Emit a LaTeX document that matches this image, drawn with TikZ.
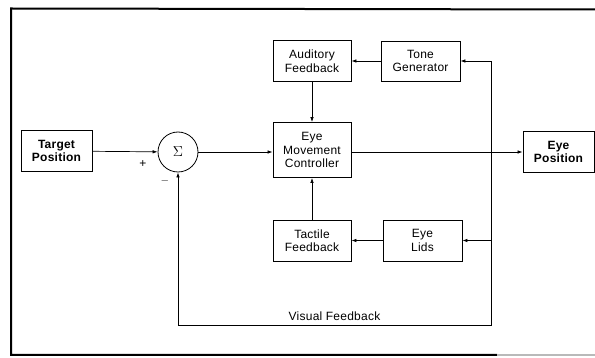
\documentclass[tikz,border=0pt]{standalone}
\usepackage{fontspec}
\setmainfont{Liberation Sans}[LetterSpace=2]
\usetikzlibrary{arrows.meta}

\newlength\boxw
\setlength\boxw{78pt}
\newlength\boxh
\setlength\boxh{41pt}

\tikzset{
  blk/.style={draw, line width=0.8pt, rectangle, minimum width=\boxw,
    minimum height=\boxh, align=center, inner sep=1pt,
    font=\fontsize{12}{13.5}\selectfont},
  io/.style={blk, minimum width=71pt, font=\fontsize{12}{13.5}\selectfont\bfseries},
  sig/.style={line width=0.7pt, -{Latex[length=5pt,width=3.5pt]}}
}

\begin{document}
\begin{tikzpicture}[x=1pt,y=-1pt]
    \useasboundingbox (0,0) rectangle (595,358);
    \begin{scope}
      \draw[line width=2pt] (595,9.5) -- (11,8.5) -- (11,355) -- (497,355);
      \draw[line width=1.5pt, gray!55] (497,355) -- (595,355);

      \node[io] (target) at (56.5,151) {Target\\Position};
      \node[draw, line width=0.8pt, circle, minimum size=40pt, inner sep=0pt] (sum) at (178,152) {\Large$\Sigma$};
      \node[blk] (aud) at (312,61) {Auditory\\Feedback};
      \node[blk, minimum width=79pt, minimum height=40pt] (tone) at (420.5,61) {Tone\\Generator};
      \node[blk, minimum height=55pt] (emc) at (312,150) {Eye\\Movement\\Controller};
      \node[blk] (tact) at (312,240.5) {Tactile\\Feedback};
      \node[blk, minimum width=79pt] (lids) at (422.5,240.5) {Eye\\Lids};
      \node[io] (eyepos) at (558.5,152) {Eye\\Position};

      \node[font=\fontsize{12}{13}\selectfont] (plus) at (143,164) {+};
      \node[font=\fontsize{11}{13}\selectfont] (minus) at (165,181) {$-$};

      \coordinate (tap) at (491,152);
      \coordinate (corner) at (491,325);

      \draw[sig] (target) -- (sum);
      \draw[sig] (sum) -- (sum -| emc.west);
      \draw[sig] (emc.east |- tap) -- (eyepos.west |- tap);
      \draw[sig] (tone) -- (aud);
      \draw[sig] (aud) -- (emc);
      \draw[sig] (tact) -- (emc);
      \draw[sig] (lids) -- (tact);
      \draw[sig] (tap) |- (tone.east);
      \draw[sig] (tap) |- (lids.east);
      \draw[sig] (tap) -- (corner) -| node[pos=0.25, above=1pt, font=\fontsize{12}{13.5}\selectfont] (visual) {Visual Feedback} (sum.south);
    \end{scope}
  \end{tikzpicture}
\end{document}
